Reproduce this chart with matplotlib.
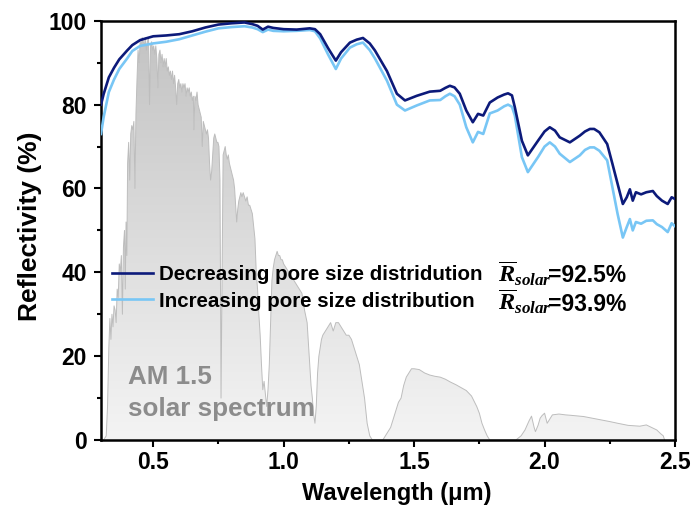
import matplotlib
matplotlib.use("Agg")
import matplotlib.pyplot as plt
import numpy as np
from matplotlib.colors import LinearSegmentedColormap

plt.rcParams['font.family'] = ['Liberation Sans', 'DejaVu Sans']
plt.rcParams['font.weight'] = 'bold'
plt.rcParams['mathtext.fontset'] = 'custom'
plt.rcParams['mathtext.it'] = 'Liberation Serif:italic:bold'
plt.rcParams['mathtext.rm'] = 'Liberation Serif:bold'

# reflectivity spectra (%)
wl = [0.30, 0.31, 0.32, 0.33, 0.35, 0.37, 0.40, 0.42, 0.45, 0.50, 0.55, 0.60,
      0.65, 0.70, 0.75, 0.80, 0.85, 0.88, 0.90, 0.92, 0.94, 0.96, 1.00, 1.05,
      1.10, 1.12, 1.14, 1.17, 1.20, 1.22, 1.254, 1.28, 1.304, 1.33, 1.35,
      1.396, 1.434, 1.465, 1.51, 1.56, 1.60, 1.62, 1.637, 1.655, 1.675, 1.70,
      1.725, 1.745, 1.765, 1.79, 1.82, 1.845, 1.86, 1.875, 1.886, 1.913,
      1.936, 1.975, 2.00, 2.02, 2.04, 2.058, 2.097, 2.135, 2.155, 2.174,
      2.19, 2.21, 2.24, 2.26, 2.28, 2.30, 2.315, 2.327, 2.338, 2.35, 2.37,
      2.39, 2.415, 2.43, 2.45, 2.472, 2.487, 2.50]
r_decreasing = [80.0, 82.5, 84.5, 86.5, 88.8, 90.8, 92.9, 94.2, 95.4, 96.3,
                96.5, 96.8, 97.5, 98.4, 99.1, 99.4, 99.6, 99.2, 98.8, 97.9,
                98.6, 98.3, 98.0, 97.9, 98.2, 98.0, 96.8, 93.5, 90.5, 92.5,
                94.8, 95.5, 95.9, 94.6, 92.9, 88.0, 82.6, 81.0, 82.1, 83.1,
                83.3, 84.0, 84.5, 84.1, 82.6, 78.6, 75.8, 77.8, 77.4, 80.5,
                81.7, 82.4, 82.7, 82.2, 79.4, 71.4, 67.9, 71.4, 73.6, 74.6,
                73.8, 72.2, 71.0, 72.6, 73.6, 74.2, 74.2, 73.4, 70.6, 65.9,
                61.1, 56.3, 57.9, 59.8, 57.1, 59.1, 58.6, 59.1, 59.4, 58.2,
                57.1, 56.3, 57.9, 57.5]
r_increasing = [73.0, 77.0, 80.0, 83.0, 86.0, 88.5, 91.0, 92.8, 94.0, 94.6,
                95.0, 95.6, 96.5, 97.4, 98.2, 98.5, 98.7, 98.4, 98.0, 97.3,
                97.9, 97.6, 97.5, 97.6, 97.8, 97.5, 95.8, 92.0, 88.5, 91.0,
                93.6, 94.4, 94.8, 93.0, 91.0, 85.7, 80.0, 78.6, 79.8, 81.0,
                81.1, 82.0, 82.6, 82.0, 80.0, 74.6, 71.0, 73.5, 73.0, 77.9,
                78.6, 79.6, 80.0, 79.5, 77.4, 67.5, 63.9, 67.5, 70.0, 71.0,
                70.0, 68.3, 66.3, 67.9, 69.2, 69.8, 69.8, 69.0, 66.7, 60.3,
                53.9, 48.3, 50.8, 52.7, 50.0, 52.0, 51.6, 52.3, 52.4, 51.5,
                50.8, 49.6, 51.7, 51.0]

# AM 1.5 solar spectrum (scaled)
sol_wl = [0.300, 0.310, 0.320, 0.325, 0.330, 0.334, 0.338, 0.342, 0.346, 0.350,
          0.354, 0.358, 0.362, 0.366, 0.370, 0.374, 0.378, 0.382, 0.386, 0.390,
          0.393, 0.396, 0.399, 0.402, 0.406, 0.410, 0.414, 0.418, 0.422, 0.426,
          0.430, 0.434, 0.438, 0.442, 0.446, 0.450, 0.454, 0.458, 0.462, 0.466,
          0.470, 0.474, 0.478, 0.482, 0.486, 0.490, 0.494, 0.498, 0.502, 0.506,
          0.510, 0.514, 0.518, 0.522, 0.526, 0.530, 0.534, 0.538, 0.542, 0.546,
          0.550, 0.554, 0.558, 0.562, 0.566, 0.570, 0.574, 0.578, 0.582, 0.586,
          0.590, 0.594, 0.598, 0.602, 0.606, 0.610, 0.614, 0.618, 0.622, 0.626,
          0.630, 0.634, 0.638, 0.642, 0.646, 0.650, 0.654, 0.656, 0.660, 0.664,
          0.668, 0.672, 0.676, 0.680, 0.684, 0.688, 0.692, 0.696, 0.700, 0.704,
          0.708, 0.712, 0.716, 0.720, 0.724, 0.728, 0.732, 0.736, 0.740, 0.744,
          0.748, 0.752, 0.756, 0.760, 0.764, 0.768, 0.772, 0.776, 0.780, 0.784,
          0.788, 0.792, 0.796, 0.800, 0.804, 0.808, 0.812, 0.816, 0.820, 0.824,
          0.828, 0.832, 0.836, 0.840, 0.845, 0.850, 0.855, 0.860, 0.865, 0.870,
          0.875, 0.880, 0.885, 0.890, 0.895, 0.900, 0.905, 0.910, 0.915, 0.920,
          0.925, 0.930, 0.935, 0.940, 0.945, 0.950, 0.955, 0.960, 0.965, 0.970,
          0.975, 0.980, 0.985, 0.990, 0.995, 1.000, 1.010, 1.020, 1.030, 1.040,
          1.050, 1.060, 1.070, 1.080, 1.090, 1.100, 1.105, 1.110, 1.115, 1.120,
          1.125, 1.130, 1.135, 1.140, 1.145, 1.150, 1.160, 1.170, 1.180, 1.190,
          1.200, 1.210, 1.220, 1.230, 1.240, 1.250, 1.260, 1.270, 1.280, 1.290,
          1.300, 1.310, 1.320, 1.330, 1.340, 1.380, 1.400, 1.410, 1.420, 1.430,
          1.440, 1.450, 1.460, 1.470, 1.480, 1.490, 1.500, 1.520, 1.540, 1.560,
          1.580, 1.600, 1.620, 1.640, 1.660, 1.680, 1.700, 1.720, 1.740, 1.750,
          1.760, 1.770, 1.780, 1.790, 1.890, 1.910, 1.925, 1.940, 1.950, 1.960,
          1.965, 1.975, 1.983, 1.990, 2.000, 2.010, 2.020, 2.030, 2.055, 2.080,
          2.100, 2.150, 2.200, 2.250, 2.280, 2.320, 2.365, 2.390, 2.410, 2.430,
          2.445, 2.455, 2.460]
sol_val = [0, 0, 1, 8, 22, 29, 24, 30, 27, 32,
           31, 28, 36, 34, 42, 40, 44, 30, 46, 50,
           36, 52, 44, 66, 71, 62, 73, 75, 74, 76,
           60, 78, 86, 93, 90, 95, 94, 96, 95, 94,
           96, 93, 95, 96, 80, 94, 95, 93, 94, 92,
           94, 91, 84, 92, 93, 90, 92, 89, 91, 89,
           91, 88, 89, 87, 88, 86, 88, 85, 87, 84,
           80, 85, 86, 84, 85, 83, 85, 84, 85, 82,
           84, 83, 84, 82, 83, 81, 82, 74, 82, 81,
           83, 80, 79, 78, 77, 70, 76, 75, 74, 73,
           74, 72, 66, 62, 64, 68, 72, 73, 72, 71,
           71, 70, 62, 10, 40, 68, 69, 70, 68, 67,
           68, 66, 65, 64, 63, 62, 60, 56, 52, 55,
           57, 58, 59, 58, 59, 58, 57, 58, 56, 56,
           55, 54, 51, 48, 40, 36, 30, 25, 18, 12,
           14, 11, 8, 12, 18, 28, 38, 41, 43, 44,
           45, 44, 44, 43, 43, 42, 41, 40, 39, 38,
           37, 36, 35, 31, 28, 18, 13, 10, 6, 4,
           8, 16, 20, 22, 24, 25, 26, 27, 28, 26,
           28, 28, 27, 26, 25, 25, 24, 22, 20, 18,
           14, 10, 4, 1, 0, 0, 2, 3, 5, 7,
           9, 10, 13, 15, 16, 17, 17, 16.8, 16, 15.5,
           15.2, 15, 14.5, 13.8, 13.2, 12.5, 11.8, 10.5, 8, 6.4,
           4, 2.4, 1, 0, 0, 1, 2.4, 4.5, 5.7, 3,
           2, 3.5, 5.2, 5.8, 6.4, 4, 5, 6, 6.2, 6,
           5.9, 5.6, 5, 4.4, 4, 3.5, 3.3, 3.6, 3, 2.4,
           1.5, 1, 0]

labels = ['Decreasing pore size distridution', 'Increasing pore size distribution']
r_solar = ['=92.5%', '=93.9%']
colors = ['#0c1a7a', '#78c6f5']

fig = plt.figure(figsize=(6.99, 5.07), dpi=100)
ax = fig.add_axes([0.1445, 0.1321, 0.8212, 0.8269])

# solar spectrum with grey gradient fill
poly = ax.fill_between(sol_wl, sol_val, 0, color='none', lw=0)
grad = np.linspace(0, 1, 256).reshape(-1, 1)
cmap = LinearSegmentedColormap.from_list('g', ['#f4f4f4', '#c2c2c2'])
im = ax.imshow(grad, extent=(0.3, 2.5, 0, 100), origin='lower', aspect='auto',
               cmap=cmap, zorder=1)
im.set_clip_path(poly.get_paths()[0], transform=ax.transData)
ax.plot(sol_wl, sol_val, color='#bdbdbd', lw=0.7, zorder=2)

lines = []
for r, c, lab in zip([r_decreasing, r_increasing], colors, labels):
    ln, = ax.plot(wl, r, color=c, lw=1.9, label=lab, zorder=3,
                  solid_joinstyle='round')
    lines.append(ln)
lines[1].set_zorder(2.9)

ax.set_xlim(0.3, 2.5)
ax.set_ylim(0, 100)
ax.set_xticks([0.5, 1.0, 1.5, 2.0, 2.5])
ax.set_xticks([0.75, 1.25, 1.75, 2.25], minor=True)
ax.set_yticks([0, 20, 40, 60, 80, 100])
ax.set_yticks([10, 30, 50, 70, 90], minor=True)
ax.tick_params(which='major', direction='out', length=5, width=1.5,
               labelsize=16.5, pad=3)
ax.tick_params(which='minor', direction='out', length=3, width=1.5)
ax.tick_params(axis='y', which='major', pad=5)
for s in ax.spines.values():
    s.set_linewidth(1.8)

ax.set_xlabel('Wavelength (μm)', fontsize=17, fontweight='bold')
ax.xaxis.set_label_coords(0.516, -0.1)
ax.set_ylabel('Reflectivity (%)', fontsize=19, fontweight='bold')
ax.yaxis.set_label_coords(-0.102, 0.51)

ax.legend(handles=lines, loc='upper left', bbox_to_anchor=(0.019, 0.418),
          frameon=False, borderpad=0, borderaxespad=0, handlelength=2.0,
          handletextpad=0.3, labelspacing=0.38,
          prop={'family': 'Liberation Sans', 'weight': 'bold', 'size': 14.8})

for yv, val in zip([37.6, 30.8], r_solar):
    ax.text(1.821, yv, r'$\overline{R}_{solar}$', fontsize=17.5,
            va='baseline', ha='left', zorder=4)
    ax.text(2.012, yv, val, fontsize=16.5, fontweight='bold',
            va='baseline', ha='left', zorder=4)

ax.text(0.403, 13.3, 'AM 1.5', fontsize=18.7, fontweight='bold',
        color='#8c8c8c', va='baseline', zorder=4)
ax.text(0.403, 5.7, 'solar spectrum', fontsize=18.7, fontweight='bold',
        color='#8c8c8c', va='baseline', zorder=4)

fig.savefig('out.png', dpi=100)
